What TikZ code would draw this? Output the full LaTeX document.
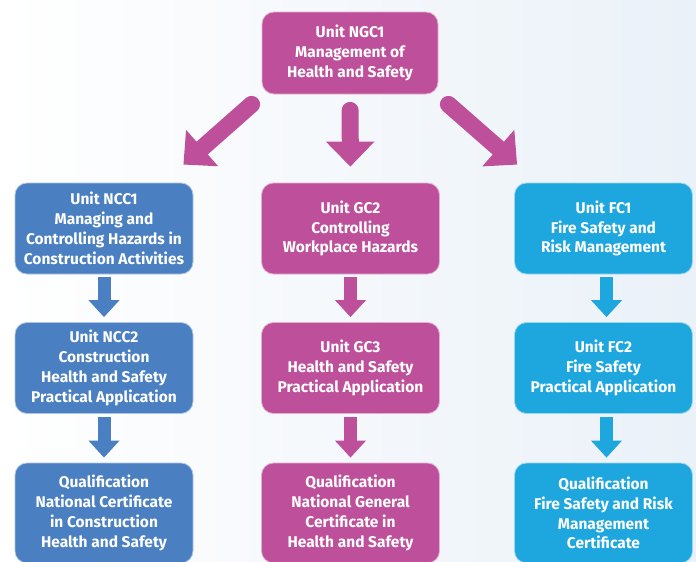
\documentclass[tikz,border=0pt]{standalone}
\usepackage{fontspec}
\setmainfont{Fira Sans}
\usetikzlibrary{arrows.meta}

\definecolor{pinkbox}{RGB}{190,80,155}
\definecolor{bluebox}{RGB}{74,127,193}
\definecolor{cyanbox}{RGB}{30,166,222}
\definecolor{paper}{RGB}{234,241,248}

\tikzset{
	unit/.style={rectangle, rounded corners=12pt, fill=#1, draw=white!55!#1, line width=0.8pt,
		text=white, font=\bfseries\fontsize{15.5}{19.8}\selectfont, align=center,
		minimum width=178pt, minimum height=91pt, inner sep=0pt},
	bigarrow/.style={draw=pinkbox, line width=17pt, line cap=round, -{Triangle[width=47pt,length=25pt]}},
	smallarrow/.style={draw=#1, line width=13pt, -{Triangle[width=30pt,length=17pt]}, shorten <=3pt, shorten >=5pt}
}

\begin{document}
\begin{tikzpicture}[x=1pt, y=-1pt]
					\shade[left color=white, right color=paper] (0,0) rectangle (696,562);
					\useasboundingbox (0,0) rectangle (696,562);

					\draw
						(350,53) node[unit=pinkbox, minimum width=176pt, minimum height=82pt] (ngc1)
							{Unit NGC1\\Management of\\Health and Safety}

						(104,228.5) node[unit=bluebox] (ncc1)
							{Unit NCC1\\Managing and\\Controlling Hazards in\\Construction Activities}
						(104,368) node[unit=bluebox] (ncc2)
							{Unit NCC2\\Construction\\Health and Safety\\Practical Application}
						(104,513) node[unit=bluebox, minimum height=100pt] (ncq)
							{Qualification\\National Certificate\\in Construction\\Health and Safety}

						(350.5,228.5) node[unit=pinkbox] (gc2)
							{Unit GC2\\Controlling\\Workplace Hazards}
						(350.5,368) node[unit=pinkbox] (gc3)
							{Unit GC3\\Health and Safety\\Practical Application}
						(350.5,513) node[unit=pinkbox, minimum height=100pt] (ngq)
							{Qualification\\National General\\Certificate in\\Health and Safety}

						(603.5,228.5) node[unit=cyanbox] (fc1)
							{Unit FC1\\Fire Safety and\\Risk Management}
						(603.5,368) node[unit=cyanbox] (fc2)
							{Unit FC2\\Fire Safety\\Practical Application}
						(603.5,513) node[unit=cyanbox, minimum height=100pt] (fcq)
							{Qualification\\Fire Safety and Risk\\Management\\Certificate};

					\draw[bigarrow]
						([shift={(-10pt,-10pt)}]ngc1.south west) -- ([shift={(-10pt,18pt)}]ncc1.north east);
					\draw[bigarrow, shorten <=16pt, shorten >=16pt]
						(ngc1) -- (gc2);
					\draw[bigarrow]
						([shift={(10pt,-10pt)}]ngc1.south east) -- ([shift={(3pt,18pt)}]fc1.north west);

					\draw[smallarrow=bluebox] (ncc1) -- (ncc2);
					\draw[smallarrow=bluebox] (ncc2) -- (ncq);
					\draw[smallarrow=pinkbox] (gc2) -- (gc3);
					\draw[smallarrow=pinkbox] (gc3) -- (ngq);
					\draw[smallarrow=cyanbox] ([xshift=3pt]fc1.south) -- ([xshift=3pt]fc2.north);
					\draw[smallarrow=cyanbox] ([xshift=3pt]fc2.south) -- ([xshift=3pt]fcq.north);
				\end{tikzpicture}
\end{document}
